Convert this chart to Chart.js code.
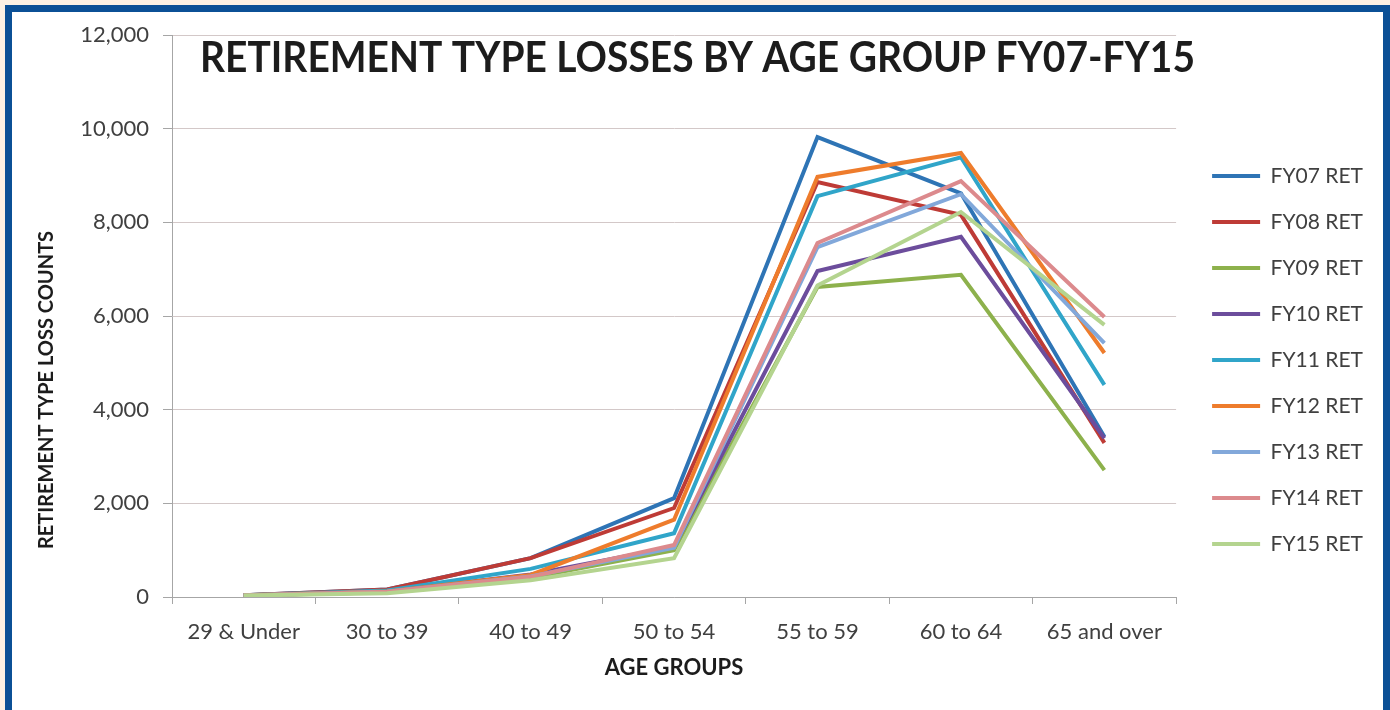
<!DOCTYPE html>
<html>
<head>
<meta charset="utf-8">
<script src="https://cdn.jsdelivr.net/npm/chart.js@4.4.1/dist/chart.umd.min.js"></script>
<style>
  html, body { margin: 0; padding: 0; }
  body { width: 1390px; height: 710px; background: #fcf1e4; position: relative; overflow: hidden; }
  #frame { position: absolute; left: 5px; top: 5px; width: 1371px; height: 703px;
           background: #ffffff; border-left: 7px solid #0b5096; border-top: 7px solid #0b5096;
           border-right: 7px solid #0b5096; border-bottom: 1px solid #a9b4c4; }
  #wrap { position: absolute; left: 0; top: 0; width: 1390px; height: 710px; }
</style>
</head>
<body>
<div id="frame"></div>
<div id="wrap"><canvas id="c"></canvas></div>
<script>
const categories = ["29 & Under", "30 to 39", "40 to 49", "50 to 54", "55 to 59", "60 to 64", "65 and over"];
const seriesNames = ["FY07 RET", "FY08 RET", "FY09 RET", "FY10 RET", "FY11 RET", "FY12 RET", "FY13 RET", "FY14 RET", "FY15 RET"];
const fy07 = [40, 160, 830, 2110, 9820, 8620, 3420];
const fy08 = [40, 160, 830, 1900, 8860, 8160, 3290];
const fy09 = [30, 100, 410, 1000, 6620, 6880, 2710];
const fy10 = [30, 120, 480, 1070, 6960, 7690, 3390];
const fy11 = [40, 140, 600, 1360, 8560, 9390, 4530];
const fy12 = [40, 120, 470, 1650, 8970, 9480, 5210];
const fy13 = [30, 110, 440, 1050, 7470, 8600, 5420];
const fy14 = [30, 110, 430, 1110, 7560, 8880, 5980];
const fy15 = [30, 80, 360, 830, 6650, 8220, 5810];
const yTicks = [0, 2000, 4000, 6000, 8000, 10000, 12000];
const chartTitle = "RETIREMENT TYPE LOSSES BY AGE GROUP FY07-FY15";
const yTitle = "RETIREMENT TYPE LOSS COUNTS";
const xTitle = "AGE GROUPS";

const seriesValues = [fy07, fy08, fy09, fy10, fy11, fy12, fy13, fy14, fy15];
const colors = ["#2e74b5", "#be3b36", "#8db14c", "#6c4d9c", "#30a5c9", "#ee7c2c", "#82a8da", "#dc8a8d", "#b4d48f"];

const datasets = seriesValues.map((vals, i) => ({
  label: seriesNames[i],
  data: vals,
  borderColor: colors[i],
  backgroundColor: colors[i],
  borderWidth: 4,
  pointRadius: 0,
  pointHoverRadius: 0,
  tension: 0,
  fill: false,
  order: seriesValues.length - i
}));

const FONT = "Lato";
const textColor = "#404040";

const customText = {
  id: 'customText',
  afterLayout(chart) {
    const lg = chart.legend;
    if (lg) { lg.left += 11; lg.right += 11; }
  },
  afterDraw(chart) {
    const ctx = chart.ctx;
    ctx.save();
    ctx.fillStyle = "#1c1c1c";
    ctx.font = "bold 42px " + FONT;
    ctx.textAlign = "left";
    ctx.textBaseline = "alphabetic";
    ctx.fillText(chartTitle, 200, 72, 995);
    ctx.restore();

    ctx.save();
    ctx.translate(47, 390);
    ctx.rotate(-Math.PI / 2);
    ctx.fillStyle = "#1c1c1c";
    ctx.font = "bold 20px " + FONT;
    ctx.textAlign = "center";
    ctx.textBaseline = "middle";
    ctx.fillText(yTitle, 0, 0, 322);
    ctx.restore();
  }
};

new Chart(document.getElementById('c'), {
  type: 'line',
  data: { labels: categories, datasets: datasets },
  plugins: [customText],
  options: {
    responsive: true,
    maintainAspectRatio: false,
    animation: false,
    layout: { padding: { left: 25, top: 35, right: 28, bottom: 25 } },
    plugins: {
      tooltip: { enabled: false },
      title: { display: false },
      legend: {
        position: 'right',
        align: 'center',
        labels: {
          usePointStyle: true,
          pointStyle: 'line',
          pointStyleWidth: 48,
          padding: 25,
          color: textColor,
          font: { family: FONT, size: 21 },
          sort: (a, b) => a.datasetIndex - b.datasetIndex
        }
      }
    },
    scales: {
      x: {
        offset: true,
        grid: { display: true, drawOnChartArea: false, drawTicks: true, tickLength: 7, offset: true, color: "#a6a6a6" },
        border: { display: true, color: "#a6a6a6", width: 1 },
        ticks: { color: textColor, font: { family: FONT, size: 22 }, padding: 15, maxRotation: 0, autoSkip: false },
        title: { display: true, text: xTitle, color: "#1c1c1c", font: { family: FONT, size: 22, weight: 'bold' }, padding: { top: 4, bottom: 4 } },
        afterFit: (axis) => { axis.height = 88; }
      },
      y: {
        min: 0,
        max: 12000,
        afterBuildTicks: (axis) => { axis.ticks = yTicks.map(v => ({ value: v })); },
        grid: { color: "#d3c8c8", tickColor: "#a6a6a6", tickLength: 9, drawTicks: true },
        border: { display: true, color: "#a6a6a6", width: 1 },
        ticks: {
          color: textColor,
          font: { family: FONT, size: 22 },
          padding: 14,
          callback: (v) => Number(v).toLocaleString('en-US')
        },
        afterFit: (axis) => { axis.width = 172 - 25; }
      }
    }
  }
});
</script>
</body>
</html>
